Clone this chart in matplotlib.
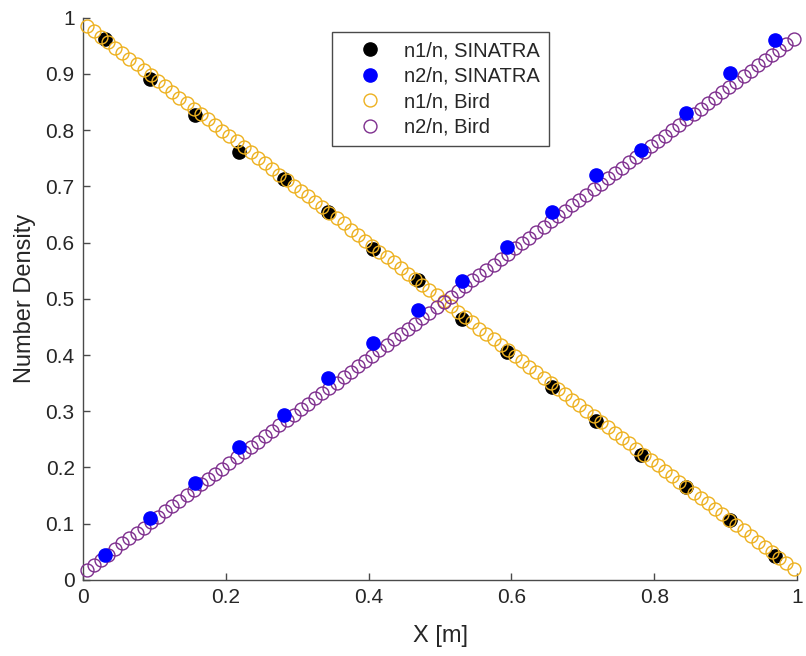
import numpy as np
import matplotlib
matplotlib.use("Agg")
import matplotlib.pyplot as plt

plt.rcParams['font.family'] = ['Liberation Sans', 'DejaVu Sans']

# SINATRA cell-centre results (16 cells)
x_sin = [0.03125, 0.09375, 0.15625, 0.21875, 0.28125, 0.34375, 0.40625, 0.46875,
         0.53125, 0.59375, 0.65625, 0.71875, 0.78125, 0.84375, 0.90625, 0.96875]
n1_sin = [0.963, 0.891, 0.827, 0.761, 0.713, 0.654, 0.588, 0.534,
          0.464, 0.406, 0.343, 0.283, 0.222, 0.166, 0.107, 0.043]
n2_sin = [0.045, 0.110, 0.173, 0.237, 0.294, 0.359, 0.422, 0.480,
          0.532, 0.593, 0.655, 0.720, 0.765, 0.831, 0.902, 0.960]

# Bird DSMC results (100 cells)
x_bird = [0.005, 0.015, 0.025, 0.035, 0.045, 0.055, 0.065, 0.075, 0.085, 0.095,
          0.105, 0.115, 0.125, 0.135, 0.145, 0.155, 0.165, 0.175, 0.185, 0.195,
          0.205, 0.215, 0.225, 0.235, 0.245, 0.255, 0.265, 0.275, 0.285, 0.295,
          0.305, 0.315, 0.325, 0.335, 0.345, 0.355, 0.365, 0.375, 0.385, 0.395,
          0.405, 0.415, 0.425, 0.435, 0.445, 0.455, 0.465, 0.475, 0.485, 0.495,
          0.505, 0.515, 0.525, 0.535, 0.545, 0.555, 0.565, 0.575, 0.585, 0.595,
          0.605, 0.615, 0.625, 0.635, 0.645, 0.655, 0.665, 0.675, 0.685, 0.695,
          0.705, 0.715, 0.725, 0.735, 0.745, 0.755, 0.765, 0.775, 0.785, 0.795,
          0.805, 0.815, 0.825, 0.835, 0.845, 0.855, 0.865, 0.875, 0.885, 0.895,
          0.905, 0.915, 0.925, 0.935, 0.945, 0.955, 0.965, 0.975, 0.985, 0.995]
n1_bird = [0.985, 0.976, 0.965, 0.957, 0.946, 0.937, 0.927, 0.917, 0.907, 0.898,
           0.888, 0.879, 0.868, 0.858, 0.849, 0.838, 0.829, 0.819, 0.810, 0.799,
           0.789, 0.780, 0.770, 0.761, 0.750, 0.741, 0.731, 0.721, 0.712, 0.701,
           0.692, 0.682, 0.672, 0.663, 0.652, 0.643, 0.634, 0.623, 0.614, 0.603,
           0.594, 0.584, 0.574, 0.565, 0.555, 0.545, 0.536, 0.525, 0.516, 0.506,
           0.496, 0.487, 0.477, 0.467, 0.458, 0.447, 0.438, 0.428, 0.418, 0.409,
           0.398, 0.389, 0.379, 0.369, 0.360, 0.350, 0.340, 0.331, 0.320, 0.311,
           0.301, 0.292, 0.281, 0.272, 0.262, 0.252, 0.243, 0.233, 0.223, 0.214,
           0.204, 0.194, 0.184, 0.175, 0.165, 0.155, 0.146, 0.136, 0.126, 0.117,
           0.107, 0.097, 0.088, 0.078, 0.068, 0.059, 0.049, 0.039, 0.030, 0.020]
n2_bird = [0.017, 0.026, 0.036, 0.045, 0.055, 0.065, 0.074, 0.084, 0.093, 0.103,
           0.112, 0.122, 0.131, 0.141, 0.151, 0.160, 0.170, 0.179, 0.189, 0.198,
           0.208, 0.218, 0.227, 0.237, 0.246, 0.256, 0.265, 0.275, 0.284, 0.294,
           0.304, 0.313, 0.323, 0.332, 0.342, 0.351, 0.361, 0.370, 0.380, 0.390,
           0.399, 0.409, 0.418, 0.428, 0.437, 0.447, 0.456, 0.466, 0.475, 0.485,
           0.495, 0.504, 0.514, 0.523, 0.533, 0.542, 0.552, 0.561, 0.571, 0.580,
           0.590, 0.600, 0.609, 0.619, 0.628, 0.638, 0.647, 0.657, 0.666, 0.676,
           0.685, 0.695, 0.705, 0.714, 0.724, 0.733, 0.743, 0.752, 0.762, 0.771,
           0.781, 0.790, 0.800, 0.810, 0.819, 0.829, 0.838, 0.848, 0.857, 0.867,
           0.876, 0.886, 0.896, 0.905, 0.915, 0.924, 0.934, 0.943, 0.953, 0.962]

labels = ["n1/n, SINATRA", "n2/n, SINATRA", "n1/n, Bird", "n2/n, Bird"]
x_ticks = [0, 0.2, 0.4, 0.6, 0.8, 1]
y_ticks = [0, 0.1, 0.2, 0.3, 0.4, 0.5, 0.6, 0.7, 0.8, 0.9, 1]

YELLOW = "#EDB120"
PURPLE = "#7E2F8E"
AXIS_C = "#4a4a4a"
TEXT_C = "#262626"

fig = plt.figure(figsize=(8.06, 6.56), dpi=100)
ax = fig.add_axes([0.103, 0.116, 0.886, 0.857])

h_black, = ax.plot(x_sin, n1_sin, 'o', color='black', markersize=9.5,
                   linestyle='none', zorder=2, clip_on=False)
h_yel, = ax.plot(x_bird, n1_bird, 'o', markerfacecolor='none', markeredgecolor=YELLOW,
                 markersize=9.3, markeredgewidth=1.0, linestyle='none', zorder=3, clip_on=False)
h_pur, = ax.plot(x_bird, n2_bird, 'o', markerfacecolor='none', markeredgecolor=PURPLE,
                 markersize=9.3, markeredgewidth=1.0, linestyle='none', zorder=4, clip_on=False)
h_blue, = ax.plot(x_sin, n2_sin, 'o', color='#0000FF', markersize=9.5,
                  linestyle='none', zorder=5, clip_on=False)

ax.set_xlim(0, 1)
ax.set_ylim(0, 1)
ax.set_xticks(x_ticks)
ax.set_yticks(y_ticks)
ax.set_xticklabels([f"{v:g}" for v in x_ticks])
ax.set_yticklabels([f"{v:g}" for v in y_ticks])

for side in ("top", "right"):
    ax.spines[side].set_visible(False)
for side in ("left", "bottom"):
    ax.spines[side].set_color(AXIS_C)
    ax.spines[side].set_linewidth(1.0)

ax.tick_params(direction='in', length=5, width=1.0, color=AXIS_C,
               labelsize=15, labelcolor=TEXT_C, pad=6)

ax.set_xlabel("X [m]", fontsize=17, color=TEXT_C, labelpad=13)
ax.set_ylabel("Number Density", fontsize=17, color=TEXT_C, labelpad=7)

leg = ax.legend([h_black, h_blue, h_yel, h_pur], labels, loc='upper left',
                bbox_to_anchor=(0.349, 0.974), fontsize=14.5, frameon=True,
                fancybox=False, edgecolor=AXIS_C, framealpha=1.0,
                labelspacing=0.32, handletextpad=0.25, borderpad=0.45,
                handlelength=2.85, borderaxespad=0.0)
leg.get_frame().set_linewidth(1.0)
for t in leg.get_texts():
    t.set_color(TEXT_C)

fig.savefig("out.png", dpi=100, facecolor='white')
